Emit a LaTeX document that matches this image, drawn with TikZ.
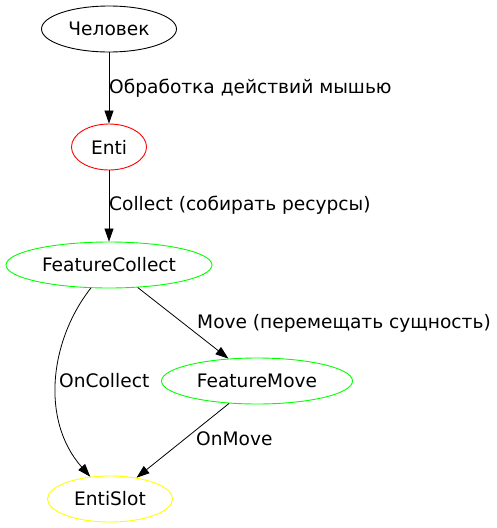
\documentclass[tikz,border=0pt]{standalone}
\usepackage{fontspec}
\setmainfont{DejaVu Sans}
\usetikzlibrary{shapes.geometric,arrows.meta}
\definecolor{gvgreen}{RGB}{0,255,0}
\definecolor{gvyellow}{RGB}{255,255,0}
\definecolor{gvred}{RGB}{255,0,0}
\begin{document}
\begin{tikzpicture}[x=1pt,y=-1pt,
  every node/.style={font=\fontsize{18.6}{20}\selectfont},
  gvnode/.style={ellipse,draw,line width=0.9pt,inner sep=0pt,minimum height=46pt},
  gvedge/.style={line width=0.8pt,-{Triangle[length=13pt,width=9pt]}},
  elabel/.style={anchor=west,inner sep=0pt}]
\useasboundingbox (0,0) rectangle (497,528);
\node[gvnode,draw=black,minimum width=135pt] (chel) at (109,29) {Человек};
\node[gvnode,draw=gvred,minimum width=75pt] (enti) at (109,147) {Enti};
\node[gvnode,draw=gvgreen,minimum width=206pt] (fc) at (109,265) {FeatureCollect};
\node[gvnode,draw=gvgreen,minimum width=191pt] (fm) at (257,381) {FeatureMove};
\node[gvnode,draw=gvyellow,minimum width=125pt] (es) at (110,499) {EntiSlot};
\draw[gvedge] (chel) -- (enti);
\node[elabel] (l1) at (109,88) {Обработка действий мышью};
\draw[gvedge] (enti) -- (fc);
\node[elabel] (l2) at (109,205) {Collect (собирать ресурсы)};
\draw[gvedge] (fc) -- (fm);
\node[elabel] (l3) at (197,323) {Move (перемещать сущность)};
\draw[gvedge] (fc) .. controls (50,340) and (40,420) .. (es);
\node[elabel] (l4) at (59,381) {OnCollect};
\draw[gvedge] (fm) -- (es);
\node[elabel] (l5) at (196,439) {OnMove};
\end{tikzpicture}
\end{document}
